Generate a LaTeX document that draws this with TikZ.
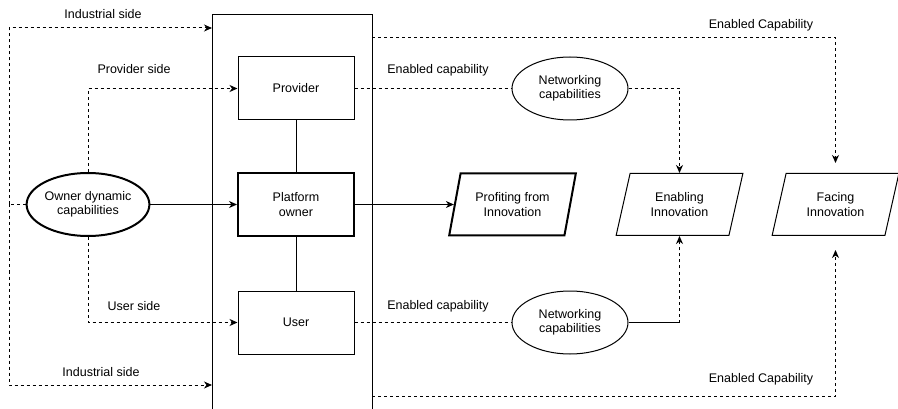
\documentclass[tikz,border=0pt]{standalone}
\usepackage{fontspec}
\setmainfont{Liberation Sans}
\usetikzlibrary{shapes.geometric,arrows.meta}
\begin{document}
\begin{tikzpicture}[x=1pt,y=-1pt,
  font=\fontsize{12.5}{14.5}\selectfont,
  line width=1pt,
  boxnode/.style={draw, rectangle, minimum width=116pt, minimum height=63pt, inner sep=0pt, align=center},
  ellnode/.style={draw, ellipse, minimum width=116pt, minimum height=63pt, inner sep=0pt, align=center},
  parnode/.style={draw, trapezium, trapezium left angle=71, trapezium right angle=109, trapezium stretches=true, minimum width=127pt, minimum height=62pt, inner sep=0pt, align=center},
  thk/.style={line width=2pt},
  dsh/.style={dash pattern=on 3pt off 3pt},
  arr/.style={-{Stealth[length=8pt,width=7pt,inset=2.5pt]}},
  lbl/.style={inner sep=0pt}
]
\useasboundingbox (0,0) rectangle (898,409);
\clip (0,0) rectangle (898,409);

% container
\node[draw, rectangle, minimum width=160pt, minimum height=420pt, inner sep=0pt] (cont) at (292,225) {};

% boxes
\node[boxnode] (prov) at (296,88.5) {Provider};
\node[boxnode, thk] (po) at (296,204.5) {Platform\\owner};
\node[boxnode] (user) at (296,322.5) {User};

\node[ellnode, thk] (own) at (88,204.5) {Owner dynamic\\capabilities};
\node[ellnode] (net1) at (570,88.5) {Networking\\capabilities};
\node[ellnode] (net2) at (570,322.5) {Networking\\capabilities};

\node[parnode, thk] (prof) at (512.5,204.5) {Profiting from\\Innovation};
\node[parnode] (enab) at (679.5,204.5) {Enabling\\Innovation};
\node[parnode] (face) at (835.5,204.5) {Facing\\Innovation};

% coordinates
\coordinate (lx) at (9,204.5);
\coordinate (ct1) at (212,28);
\coordinate (cb1) at (212,385);
\coordinate (cr1) at (372,38);
\coordinate (cr2) at (372,396);
\coordinate (j2) at (enab.south |- net2.east);

% connectors left
\draw[arr] (own.east) -- (po.west);
\draw[dsh,arr] (own.north) |- (prov.west);
\draw[dsh,arr] (own.south) |- (user.west);
\draw[dsh] (own.west) -- (lx);
\draw[dsh,arr] (lx) |- (ct1);
\draw[dsh,arr] (lx) |- (cb1);

\draw (prov.south) -- (po.north);
\draw (po.south) -- (user.north);

% connectors right
\draw[arr] (po.east) -- (prof.left side);
\draw[dsh] (prov.east) -- (net1.west);
\draw[dsh,arr] (net1.east) -| (enab.north);
\draw[dsh] (user.east) -- (net2.west);
\draw (net2.east) -- (j2);
\draw[dsh,arr] (j2) -- (enab.south);
\draw[dsh,arr,shorten >=10pt] (cr1) -| (face.north);
\draw[dsh,arr,shorten >=14pt] (cr2) -| (face.south);

% labels
\node[lbl] (l1) at (103,14) {Industrial side};
\node[lbl] (l2) at (134,69) {Provider side};
\node[lbl] (l3) at (134,306) {User side};
\node[lbl] (l4) at (101,372) {Industrial side};
\node[lbl] (l5) at (438,70) {Enabled capability};
\node[lbl] (l6) at (438,306) {Enabled capability};
\node[lbl] (l7) at (761,25) {Enabled Capability};
\node[lbl] (l8) at (761,379) {Enabled Capability};
\end{tikzpicture}
\end{document}
